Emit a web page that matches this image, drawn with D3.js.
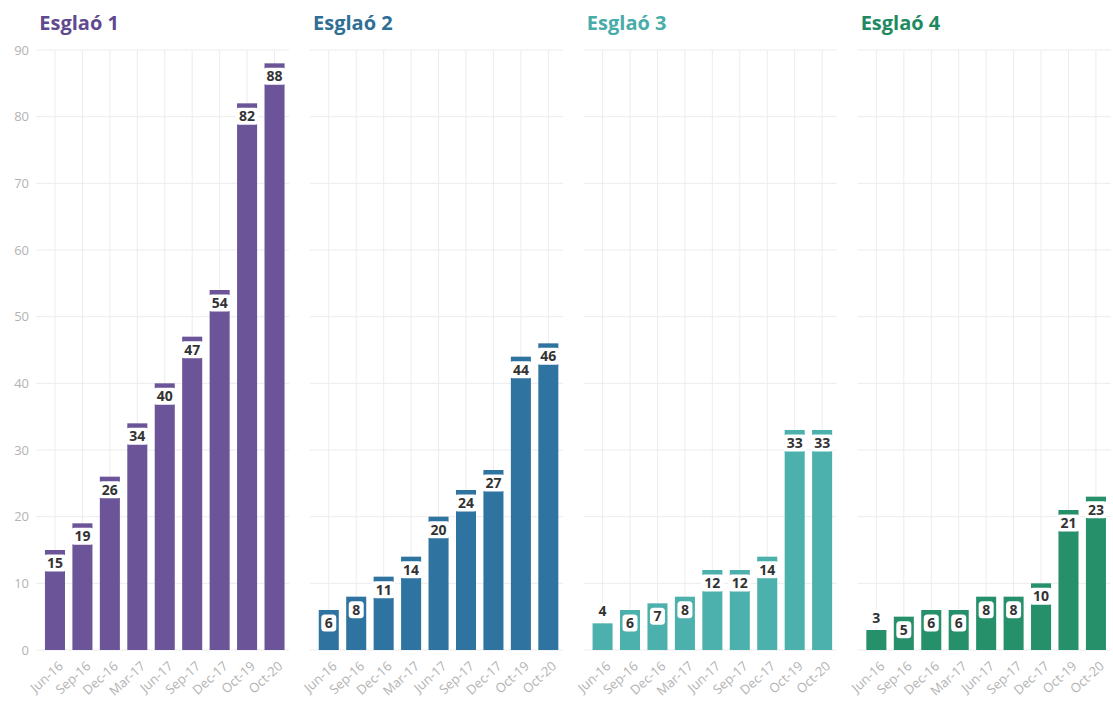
<!DOCTYPE html>
<html>
<head>
<meta charset="utf-8">
<script src="https://cdn.jsdelivr.net/npm/d3@7"></script>
<style>
  html, body { margin: 0; padding: 0; background: #fff; }
  svg { display: block; }
</style>
</head>
<body>
<svg id="chart" width="1113" height="713"></svg>
<script>
const categories = ["Jun-16","Sep-16","Dec-16","Mar-17","Jun-17","Sep-17","Dec-17","Oct-19","Oct-20"];
const panelTitles = ["Esglaó 1","Esglaó 2","Esglaó 3","Esglaó 4"];
const esglao1 = [15,19,26,34,40,47,54,82,88];
const esglao2 = [6,8,11,14,20,24,27,44,46];
const esglao3 = [4,6,7,8,12,12,14,33,33];
const esglao4 = [3,5,6,6,8,8,10,21,23];
const yTicks = [0,10,20,30,40,50,60,70,80,90];
const barColors = ["#6c5499","#2f74a0","#4cb0ac","#25906a"];
const titleColors = ["#5f4a8f","#2f6e95","#48aca8","#1f8a62"];

const series = [esglao1, esglao2, esglao3, esglao4];
const svg = d3.select("#chart");
const font = "'Open Sans', sans-serif";

const y = d3.scaleLinear().domain([0, 90]).range([650, 50]);
const panelStart = 41.25, panelStep = 273.8, panelWidth = 247;

series.forEach((vals, i) => {
  const x0 = panelStart + i * panelStep;
  const x = d3.scaleBand().domain(categories).range([x0, x0 + panelWidth]).paddingInner(0.27).paddingOuter(0.135);
  const g = svg.append("g");

  // horizontal gridlines
  g.selectAll("line.hg").data(yTicks).join("line")
    .attr("x1", x0 - 5).attr("x2", x0 + panelWidth + 1)
    .attr("y1", d => y(d)).attr("y2", d => y(d))
    .attr("stroke", "#ececec").attr("stroke-width", 1);
  // vertical gridlines
  g.selectAll("line.vg").data(categories).join("line")
    .attr("x1", d => x(d) + x.bandwidth() / 2).attr("x2", d => x(d) + x.bandwidth() / 2)
    .attr("y1", y(90)).attr("y2", y(0))
    .attr("stroke", "#ececec").attr("stroke-width", 1);

  // bars
  g.selectAll("rect.bar").data(vals).join("rect")
    .attr("x", (d, j) => x(categories[j]))
    .attr("width", x.bandwidth())
    .attr("y", d => y(d))
    .attr("height", d => y(0) - y(d))
    .attr("fill", barColors[i]);

  // labels
  const lab = g.selectAll("g.lab").data(vals).join("g")
    .attr("transform", (d, j) => {
      const cx = x(categories[j]) + x.bandwidth() / 2;
      const cy = d >= 5 ? y(d) + 13 : y(d) - 12;
      return `translate(${cx},${cy})`;
    });
  lab.append("rect")
    .attr("x", d => String(d).length > 1 ? -11.5 : -7.5)
    .attr("width", d => String(d).length > 1 ? 23 : 15)
    .attr("y", -8.5).attr("height", 17)
    .attr("rx", 3.5).attr("fill", "#fff");
  lab.append("text")
    .attr("text-anchor", "middle").attr("dy", "0.36em")
    .attr("font-family", font).attr("font-weight", "bold").attr("font-size", 14)
    .attr("fill", "#333")
    .text(d => d);

  // x axis labels
  g.selectAll("text.xl").data(categories).join("text")
    .attr("transform", d => `translate(${x(d) + x.bandwidth() / 2 + 6},${664}) rotate(-42)`)
    .attr("text-anchor", "end").attr("dy", "0.35em")
    .attr("font-family", font).attr("font-size", 13).attr("fill", "#b3b3b3")
    .text(d => d);

  // title
  svg.append("text")
    .attr("x", x0 - 2).attr("y", 30)
    .attr("font-family", font).attr("font-weight", "bold").attr("font-size", 20)
    .attr("fill", titleColors[i])
    .text(panelTitles[i]);

  // y axis on first panel
  if (i === 0) {
    svg.append("g").selectAll("text").data(yTicks).join("text")
      .attr("x", 29).attr("y", d => y(d)).attr("dy", "0.35em")
      .attr("text-anchor", "end")
      .attr("font-family", font).attr("font-size", 13).attr("fill", "#b3b3b3")
      .text(d => d);
  }
});
</script>
</body>
</html>
